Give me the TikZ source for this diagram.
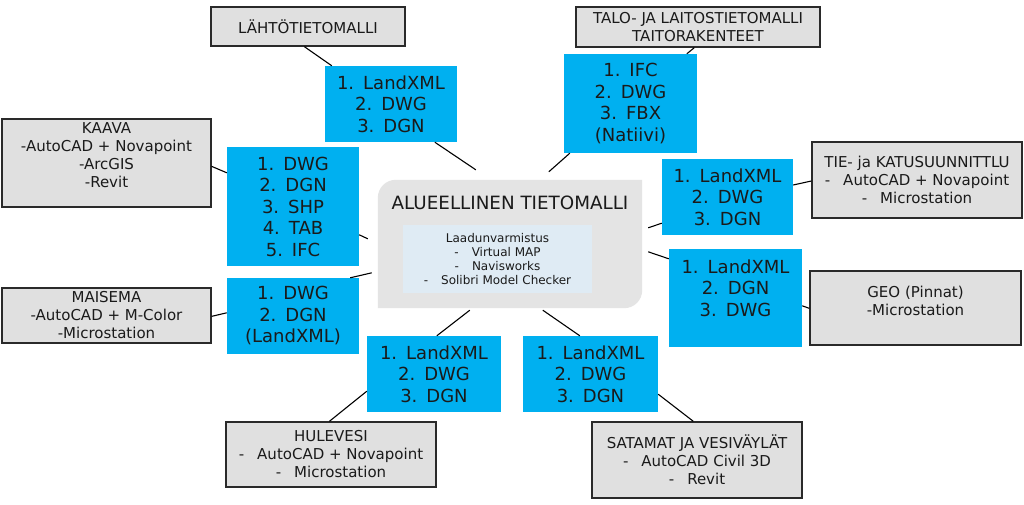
\documentclass[tikz,border=0pt]{standalone}
\usepackage{fontspec}
\setmainfont{DejaVu Sans}
\usetikzlibrary{calc}
\definecolor{bluebox}{HTML}{00B0F0}
\definecolor{graybox}{HTML}{E0E0E0}
\definecolor{cenfill}{HTML}{E4E4E4}
\definecolor{innerfill}{HTML}{DFEBF4}
\definecolor{txt}{HTML}{1A1A1A}
\definecolor{edge}{HTML}{2A2A2A}
\newcommand{\gp}{\hspace{0.5em}}
\newcommand{\dsh}{-\hspace{13pt}}
\begin{document}
\begin{tikzpicture}[x=1pt,y=-1pt,
  graybx/.style={draw=edge, line width=1.3pt, fill=graybox, inner sep=0pt, align=center, text=txt, font=\fontsize{15}{18}\selectfont},
  bluebx/.style={fill=bluebox, inner sep=0pt, align=center, text=txt, font=\fontsize{18}{21.5}\selectfont},
  plaintxt/.style={inner sep=0pt, align=center, text=txt},
  conn/.style={draw=black, line width=1.1pt}]
\useasboundingbox (0,0) rectangle (1024,505);
\fill[white] (0,0) rectangle (1024,505);

% central box
\node[minimum width=264pt, minimum height=128pt, inner sep=0pt] (cen) at (510,244) {};
\fill[cenfill] ($(cen.north west)+(0,18)$) arc[start angle=180, end angle=270, radius=18]
  -- (cen.north east) -- ($(cen.south east)+(0,-18)$) arc[start angle=0, end angle=90, radius=18]
  -- (cen.south west) -- cycle;
\node[plaintxt, font=\fontsize{18.3}{22}\selectfont] (title) at (510,203) {ALUEELLINEN TIETOMALLI};
\node[fill=innerfill, minimum width=189pt, minimum height=68pt, inner sep=0pt] (inner) at (497.5,259) {};
\node[plaintxt, font=\fontsize{12}{14}\selectfont] (innertxt) at (497.5,259.5)
  {Laadunvarmistus\\ \dsh Virtual MAP\\ \dsh Navisworks\\ \dsh Solibri Model Checker};

% gray boxes
\node[graybx, minimum width=194pt, minimum height=39pt] (lah) at (308,26.5) {LÄHTÖTIETOMALLI};
\node[graybx, minimum width=244pt, minimum height=40pt] (talo) at (698,27) {TALO- JA LAITOSTIETOMALLI\\TAITORAKENTEET};
\node[graybx, minimum width=209pt, minimum height=88pt] (kaava) at (106.5,163) {};
\node[plaintxt, font=\fontsize{15}{18}\selectfont] (kaavatxt) at (106.5,155) {KAAVA\\-AutoCAD + Novapoint\\-ArcGIS\\-Revit};
\node[graybx, minimum width=209pt, minimum height=55pt] (mais) at (106.5,315.5) {MAISEMA\\-AutoCAD + M-Color\\-Microstation};
\node[graybx, minimum width=210pt, minimum height=76pt] (tie) at (917,180) {TIE- ja KATUSUUNNITTLU\\\dsh AutoCAD + Novapoint\\\dsh Microstation};
\node[graybx, minimum width=211pt, minimum height=74pt] (geo) at (915.5,308) {};
\node[plaintxt, font=\fontsize{15}{18}\selectfont] (geotxt) at (915.5,301) {GEO (Pinnat)\\-Microstation};
\node[graybx, minimum width=210pt, minimum height=65pt] (hul) at (331,454.5) {HULEVESI\\\dsh AutoCAD + Novapoint\\\dsh Microstation};
\node[graybx, minimum width=210pt, minimum height=76pt] (sat) at (697,460) {SATAMAT JA VESIVÄYLÄT\\\dsh AutoCAD Civil 3D\\\dsh Revit};

% blue boxes
\node[bluebx, minimum width=132pt, minimum height=76pt] (b1) at (391,104) {1.\gp LandXML\\2.\gp DWG\\3.\gp DGN};
\node[bluebx, minimum width=133pt, minimum height=99pt] (b2) at (630.5,103.5) {1.\gp IFC\\2.\gp DWG\\3.\gp FBX\\(Natiivi)};
\node[bluebx, minimum width=132pt, minimum height=119pt] (b3) at (293,206.5) {1.\gp DWG\\2.\gp DGN\\3.\gp SHP\\4.\gp TAB\\5.\gp IFC};
\node[bluebx, minimum width=132pt, minimum height=76pt] (b4) at (293,316) {1.\gp DWG\\2.\gp DGN\\(LandXML)};
\node[bluebx, minimum width=131pt, minimum height=76pt] (b5) at (727.5,197) {1.\gp LandXML\\2.\gp DWG\\3.\gp DGN};
\node[bluebx, minimum width=133pt, minimum height=98pt] (b6) at (735.5,298) {};
\node[plaintxt, font=\fontsize{18}{21.5}\selectfont] (b6txt) at (735.5,288) {1.\gp LandXML\\2.\gp DGN\\3.\gp DWG};
\node[bluebx, minimum width=134pt, minimum height=76pt] (b7) at (434,374) {1.\gp LandXML\\2.\gp DWG\\3.\gp DGN};
\node[bluebx, minimum width=135pt, minimum height=76pt] (b8) at (590.5,374) {1.\gp LandXML\\2.\gp DWG\\3.\gp DGN};

% connectors
\draw[conn] ($(lah.south west)+(94,0)$) -- ($(b1.north west)+(7,0)$);
\draw[conn] ($(b1.south west)+(110,0)$) -- ($(cen.north west)+(98,-10)$);
\draw[conn] ($(talo.south west)+(119,0)$) -- ($(b2.north west)+(123,0)$);
\draw[conn] ($(b2.south west)+(6,0)$) -- ($(cen.north west)+(171,-8)$);
\draw[conn] ($(tie.west)+(0,1)$) -- ($(b5.east)+(0,-12)$);
\draw[conn] ($(b5.south west)+(0,-12)$) -- ($(cen.north east)+(6,48)$);
\draw[conn] ($(cen.north east)+(6,72)$) -- ($(b6.north west)+(0,10)$);
\draw[conn] ($(b6.north east)+(0,57)$) -- ($(geo.north west)+(0,38)$);
\draw[conn] ($(kaava.north east)+(0,48)$) -- ($(b3.north west)+(0,26)$);
\draw[conn] ($(b3.north east)+(0,88)$) -- ($(cen.north west)+(-10,59)$);
\draw[conn] ($(b4.north east)+(-9,0)$) -- ($(cen.north west)+(-6,93)$);
\draw[conn] ($(mais.north east)+(0,29)$) -- ($(b4.north west)+(0,35)$);
\draw[conn] ($(cen.south west)+(92,2)$) -- ($(b7.north west)+(70,0)$);
\draw[conn] ($(cen.south west)+(165,2)$) -- ($(b8.north west)+(57,0)$);
\draw[conn] ($(b7.south west)+(0,-21)$) -- ($(hul.north west)+(104,0)$);
\draw[conn] ($(b8.south east)+(0,-18)$) -- ($(sat.north west)+(102,0)$);
\end{tikzpicture}
\end{document}
